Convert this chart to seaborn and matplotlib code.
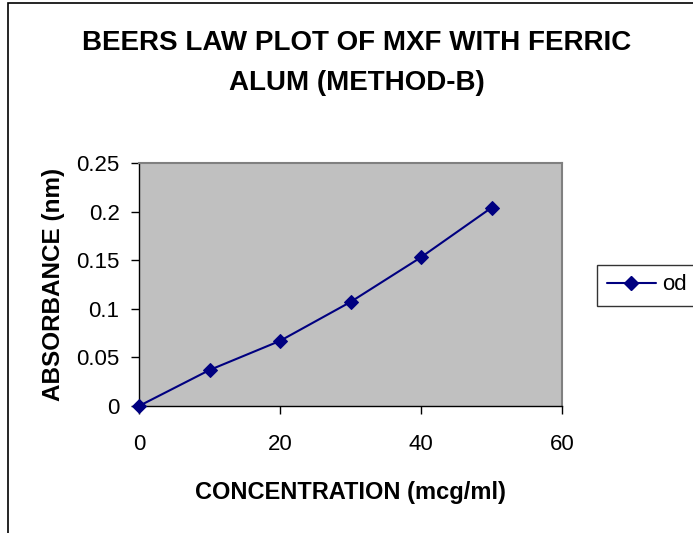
import matplotlib
matplotlib.use("Agg")
import matplotlib.pyplot as plt
import seaborn as sns
import pandas as pd
from matplotlib.patches import Rectangle
from matplotlib.lines import Line2D

concentration = [0, 10, 20, 30, 40, 50]
absorbance = [0.0, 0.037, 0.067, 0.107, 0.153, 0.204]
series_name = "od"
x_ticks = [0, 20, 40, 60]
y_ticks = [0, 0.05, 0.1, 0.15, 0.2, 0.25]
y_tick_labels = ["0", "0.05", "0.1", "0.15", "0.2", "0.25"]

sns.set_style("white")
plt.rcParams['font.family'] = ['Liberation Sans', 'DejaVu Sans']
plt.rcParams['text.color'] = 'black'
plt.rcParams['axes.labelcolor'] = 'black'
plt.rcParams['xtick.color'] = 'black'
plt.rcParams['ytick.color'] = 'black'

df = pd.DataFrame({"x": concentration, "y": absorbance, "s": series_name})

fig = plt.figure(figsize=(6.93, 5.33), dpi=100)
W, H = 693, 533
ax = fig.add_axes([139 / W, 1 - 406 / H, (562 - 139) / W, (406 - 163) / H])
ax.set_facecolor("#C0C0C0")

sns.lineplot(data=df, x="x", y="y", hue="s", palette=["#000080"], marker="D",
             markersize=7, markeredgecolor="#000080", linewidth=1.5, ax=ax,
             legend=False, clip_on=False, zorder=3)

ax.set_xlim(0, 60)
ax.set_ylim(0, 0.25)
ax.set_xticks(x_ticks)
ax.set_xticklabels([str(v) for v in x_ticks], fontsize=16)
ax.set_yticks(y_ticks)
ax.set_yticklabels(y_tick_labels, fontsize=16)
ax.tick_params(axis="both", direction="out", length=6, width=1, color="black",
               labelcolor="black", left=True, bottom=True)
ax.tick_params(axis="x", pad=14)
ax.tick_params(axis="y", pad=8)
for s in ["left", "bottom"]:
    ax.spines[s].set_color("black")
    ax.spines[s].set_linewidth(1)
for s in ["top", "right"]:
    ax.spines[s].set_color("#808080")
    ax.spines[s].set_linewidth(1.5)

ax.set_xlabel("CONCENTRATION (mcg/ml)", fontsize=17, fontweight="bold", labelpad=19,
              color="black")
ax.set_ylabel("ABSORBANCE (nm)", fontsize=17.5, fontweight="bold", labelpad=8,
              color="black")

fig.text(357 / W, 1 - 63 / H, "BEERS LAW PLOT OF MXF WITH FERRIC\nALUM (METHOD-B)",
         ha="center", va="center", fontsize=20, fontweight="bold", linespacing=1.7,
         color="black")

handle = Line2D([], [], color="#000080", marker="D", markersize=7, linewidth=1.5)
leg = fig.legend([handle], [series_name], loc="center left",
                 bbox_to_anchor=(597 / W, 1 - 285 / H), fontsize=16,
                 frameon=True, fancybox=False, edgecolor="black",
                 handlelength=2.2, borderpad=0.45, handletextpad=0.3,
                 borderaxespad=0)
leg.get_frame().set_linewidth(1)
for t in leg.get_texts():
    t.set_color("black")

fig.patches.append(Rectangle((8 / W, -0.1), 1.2, 1 - 3 / H + 0.1,
                             transform=fig.transFigure, fill=False,
                             edgecolor="black", linewidth=1.2))

fig.savefig("out.png", dpi=100)
